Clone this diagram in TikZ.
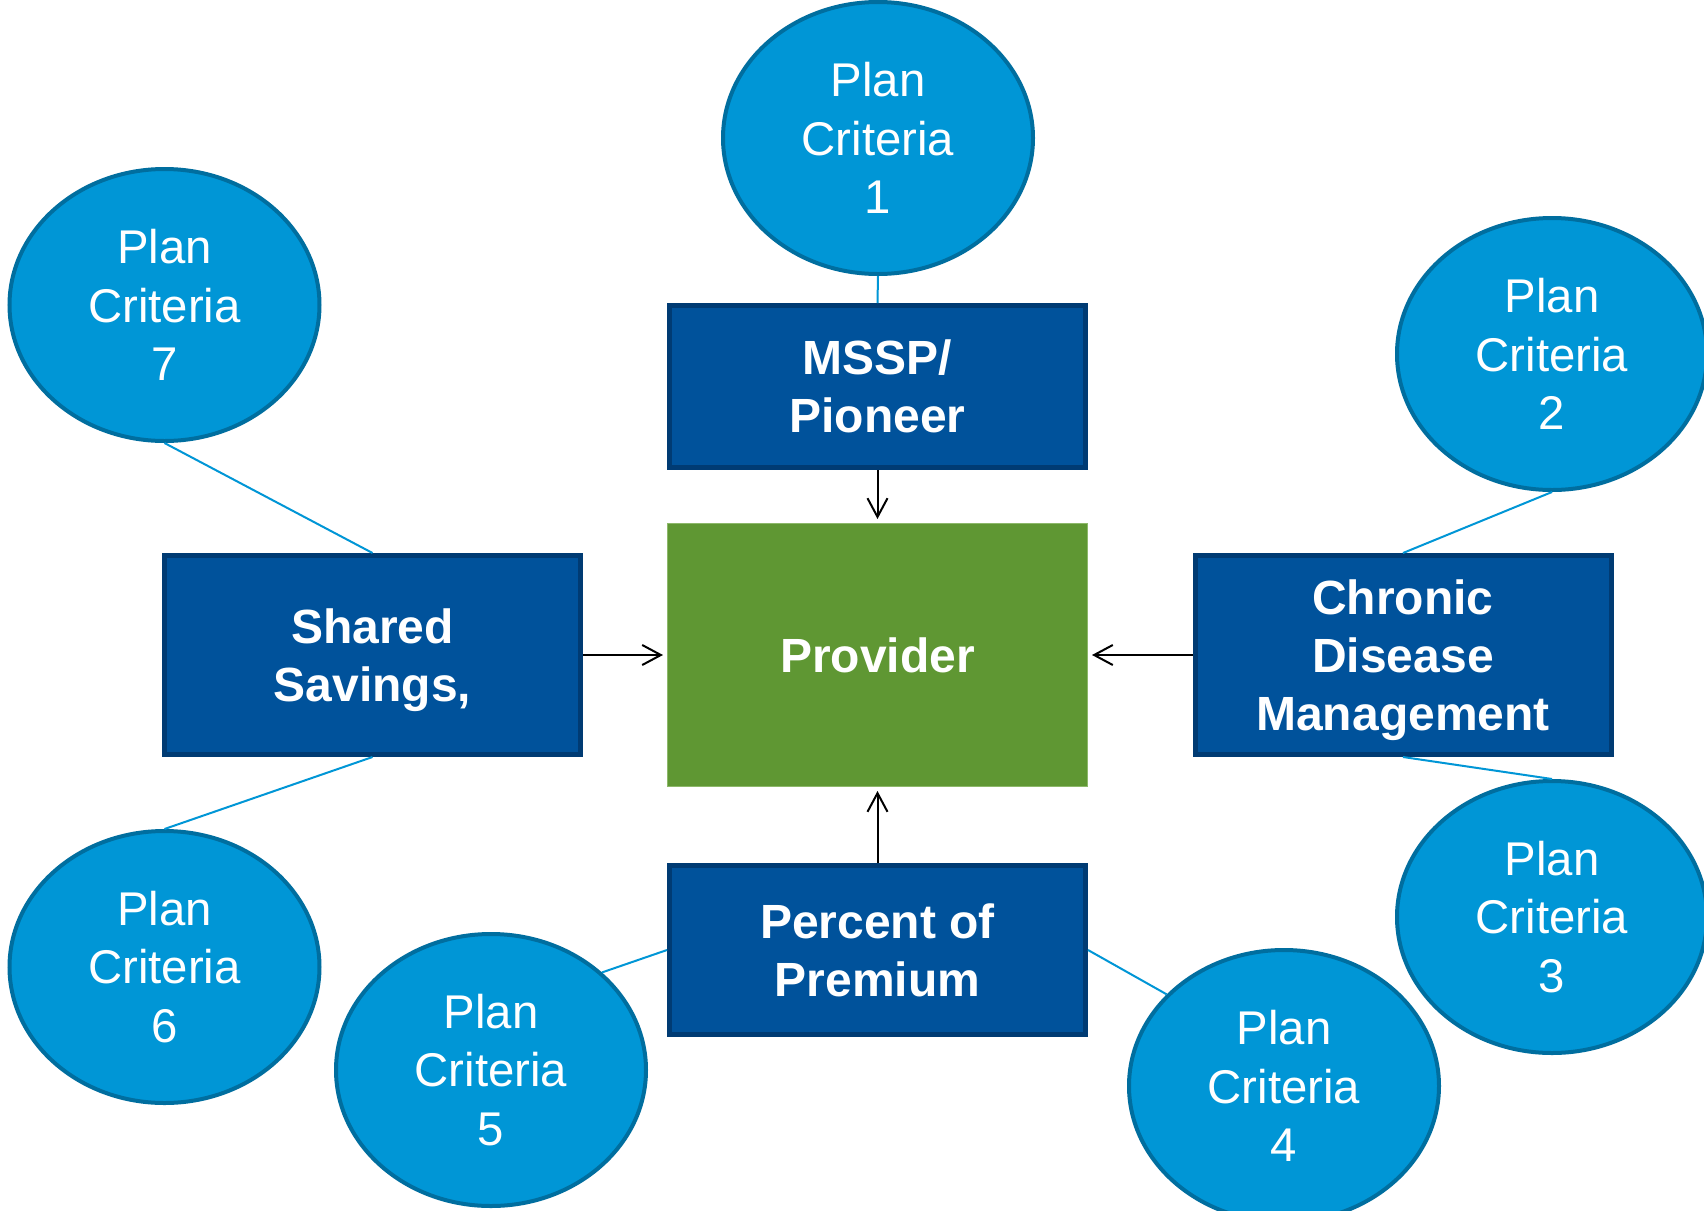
\documentclass[tikz,border=0pt]{standalone}
\usepackage{fontspec}
\setmainfont{Liberation Sans}
\usetikzlibrary{shapes.geometric,arrows.meta}

\definecolor{critfill}{HTML}{0096D6}
\definecolor{critedge}{HTML}{006E9F}
\definecolor{boxfill}{HTML}{00529B}
\definecolor{boxedge}{HTML}{003B73}
\definecolor{provfill}{HTML}{5F9733}
\definecolor{provedge}{HTML}{8DB86A}
\definecolor{linkblue}{HTML}{0096D6}

\begin{document}
\begin{tikzpicture}[x=0.75pt,y=-0.75pt,
  criterion/.style={ellipse,draw=critedge,line width=3pt,fill=critfill,
    minimum width=232.5pt,minimum height=204pt,inner sep=0pt,outer sep=1.5pt,
    text=white,font=\fontsize{35.5}{44}\selectfont,align=center},
  program/.style={rectangle,draw=boxedge,line width=3.75pt,fill=boxfill,
    minimum width=312pt,inner sep=0pt,outer sep=1.875pt,text depth=0pt,
    text=white,font=\fontsize{36}{43.5}\selectfont\bfseries,align=center},
  provider/.style={rectangle,draw=provedge,line width=0.75pt,fill=provfill,
    minimum width=315pt,minimum height=197.25pt,inner sep=0pt,outer sep=0.375pt,
    text depth=0pt,text=white,font=\fontsize{36}{43.5}\selectfont\bfseries,align=center},
  link/.style={draw=linkblue,line width=1.5pt},
  feed/.style={draw=black,line width=1.5pt,
    -{Straight Barb[length=14pt,width=15pt]},shorten >=3pt}
]
\useasboundingbox (0,0) rectangle (1704,1211);
\clip (0,0) rectangle (1704,1211);
\fill[white] (0,0) rectangle (1704,1211);

% payment programs and the provider
\node[provider] (prov) at (877.5,655) {Provider};
\node[program,minimum height=121.5pt] (mssp) at (877.5,386.5) {MSSP/\\Pioneer};
\node[program,minimum height=149.25pt] (shared) at (372.5,655) {Shared\\Savings,};
\node[program,minimum height=149.25pt] (chronic) at (1403,655) {Chronic\\Disease\\Management};
\node[program,minimum height=126.75pt] (percent) at (877.5,950) {Percent of\\Premium};

% plan criteria
\node[criterion] (e1) at (878,138) {Plan\\Criteria\\1};
\node[criterion] (e2) at (1552,354) {Plan\\Criteria\\2};
\node[criterion] (e3) at (1552,917) {Plan\\Criteria\\3};
\node[criterion] (e4) at (1284,1086) {Plan\\Criteria\\4};
\node[criterion] (e5) at (491,1070) {Plan\\Criteria\\5};
\node[criterion] (e6) at (164.5,967) {Plan\\Criteria\\6};
\node[criterion] (e7) at (164.5,305) {Plan\\Criteria\\7};

% criteria links
\draw[link] (e1.south) -- (mssp.north);
\draw[link] (e7.south) -- (shared.north);
\draw[link] (shared.south) -- (e6.north);
\draw[link] (e2.south) -- (chronic.north);
\draw[link] (chronic.south) -- (e3.north);
\draw[link] (percent.west) -- (e5.north east);
\draw[link] (percent.east) -- (e4.142);

% flows into the provider
\draw[feed] (mssp.south) -- (prov.north);
\draw[feed] (shared.east) -- (prov.west);
\draw[feed] (chronic.west) -- (prov.east);
\draw[feed] (percent.north) -- (prov.south);
\end{tikzpicture}
\end{document}
